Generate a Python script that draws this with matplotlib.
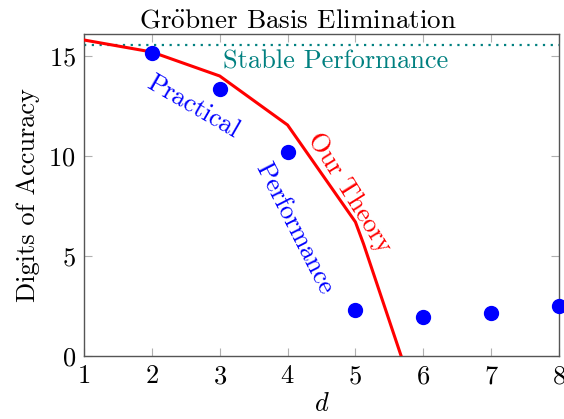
import matplotlib
matplotlib.use("Agg")
import matplotlib.pyplot as plt

plt.rcParams['font.family'] = ['cmr10', 'DejaVu Serif']
plt.rcParams['mathtext.fontset'] = 'cm'
plt.rcParams['axes.formatter.use_mathtext'] = True

theory_d = [1, 2, 3, 4, 5, 5.12, 6]
theory_v = [15.8, 15.2, 14.0, 11.55, 6.7, 5.6, -3.3]
practical_d = [2, 3, 4, 5, 6, 7, 8]
practical_v = [15.15, 13.35, 10.2, 2.3, 1.95, 2.15, 2.5]
stable_level = 15.55
xticks = [1, 2, 3, 4, 5, 6, 7, 8]
yticks = [0, 5, 10, 15]

fig = plt.figure(figsize=(5.64, 4.19), dpi=100)
ax = fig.add_axes([84/564, 1-356/419, (559-84)/564, (356-34)/419])

ax.plot(theory_d, theory_v, color='red', lw=2.2, clip_on=True, zorder=3)
ax.plot(practical_d, practical_v, 'o', color='blue', ms=10, clip_on=False, zorder=4)
ax.axhline(stable_level, color='teal', ls=(0, (1, 2.5)), lw=1.6, zorder=2)

ax.set_xlim(1, 8)
ax.set_ylim(0, 16.1)
ax.set_xticks(xticks)
ax.set_yticks(yticks)
ax.tick_params(direction='in', length=6, width=0.8, color='#b0b0b0', top=True, right=True,
               labelsize=19, pad=6)
for s in ax.spines.values():
    s.set_color('#555555')
    s.set_linewidth(1.0)

ax.set_title(r'Gr$\ddot{\mathrm{o}}$bner Basis Elimination', fontsize=19.5, pad=5, x=0.45)
ax.set_xlabel(r'$d$', fontsize=19, labelpad=3)
ax.set_ylabel('Digits of Accuracy', fontsize=19, labelpad=6)

ax.text(4.71, 14.7, 'Stable Performance', color='teal', fontsize=19, ha='center', va='center')
ax.text(2.6, 12.45, 'Practical', color='blue', fontsize=19, rotation=-30, ha='center', va='center',
        rotation_mode='anchor')
ax.text(4.1, 6.4, 'Performance', color='blue', fontsize=19, rotation=-63, ha='center', va='center',
        rotation_mode='anchor')
ax.text(4.91, 8.15, 'Our Theory', color='red', fontsize=19, rotation=-58, ha='center', va='center',
        rotation_mode='anchor')

fig.savefig('out.png', dpi=100)
